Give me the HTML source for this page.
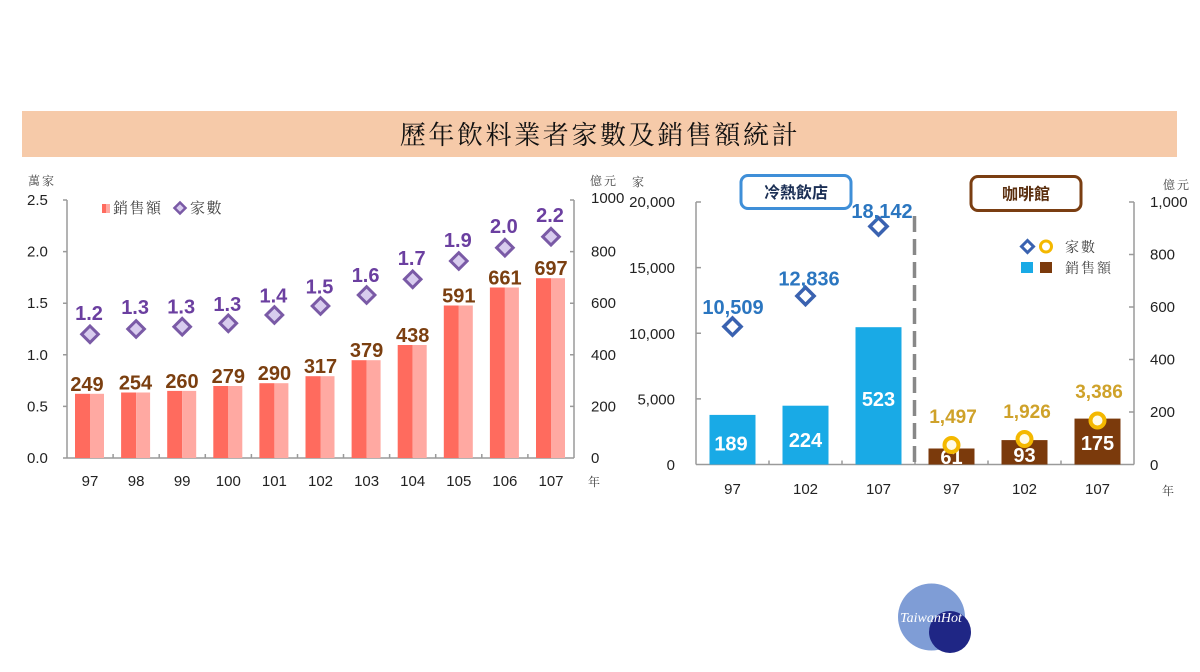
<!DOCTYPE html>
<html><head><meta charset="utf-8"><style>
html,body{margin:0;padding:0;background:#fff;}
svg{display:block;}
.ax{font-family:"Liberation Sans",Arial,sans-serif;font-size:15px;fill:#222;}
.cj{font-family:"Liberation Serif","Noto Serif CJK SC","Noto Sans CJK TC",serif;fill:#444;}
.bl{font-family:"Liberation Sans",Arial,sans-serif;font-weight:bold;}
</style></head><body>
<svg width="1200" height="672" viewBox="0 0 1200 672" xmlns="http://www.w3.org/2000/svg">
<rect width="1200" height="672" fill="#fff"/>
<!-- title band -->
<rect x="22" y="111" width="1155" height="46" fill="#f6caa9"/>
<text x="600" y="144" text-anchor="middle" font-family="'Noto Serif CJK SC','Noto Serif CJK TC',serif" font-size="26" letter-spacing="2.6" fill="#111">歷年飲料業者家數及銷售額統計</text>

<!-- ============ LEFT CHART ============ -->
<g stroke="#9a9a9a" stroke-width="1.5" fill="none">
<line x1="67" y1="200" x2="67" y2="458"/>
<line x1="574" y1="200" x2="574" y2="458"/>
<line x1="67" y1="458" x2="574" y2="458"/>
<path d="M63 200H67M63 251.6H67M63 303.2H67M63 354.8H67M63 406.4H67M63 458H67"/>
<path d="M570 200H574M570 251.6H574M570 303.2H574M570 354.8H574M570 406.4H574"/>
<path d="M113.1 454V458M159.2 454V458M205.3 454V458M251.4 454V458M297.5 454V458M343.5 454V458M389.6 454V458M435.7 454V458M481.8 454V458M527.9 454V458"/>
</g>
<text class="cj" x="28" y="185" font-size="12" letter-spacing="2">萬家</text>
<text class="cj" x="590" y="185" font-size="12" letter-spacing="2">億元</text>
<g class="ax">
<text x="27" y="205">2.5</text>
<text x="27" y="256.6">2.0</text>
<text x="27" y="308.2">1.5</text>
<text x="27" y="359.8">1.0</text>
<text x="27" y="411.4">0.5</text>
<text x="27" y="463">0.0</text>
<text x="591" y="203">1000</text>
<text x="591" y="256.6">800</text>
<text x="591" y="308.2">600</text>
<text x="591" y="359.8">400</text>
<text x="591" y="411.4">200</text>
<text x="591" y="463">0</text>
</g>
<g class="ax" text-anchor="middle">
<text x="90" y="486">97</text>
<text x="136.1" y="486">98</text>
<text x="182.2" y="486">99</text>
<text x="228.3" y="486">100</text>
<text x="274.4" y="486">101</text>
<text x="320.5" y="486">102</text>
<text x="366.6" y="486">103</text>
<text x="412.7" y="486">104</text>
<text x="458.8" y="486">105</text>
<text x="504.9" y="486">106</text>
<text x="551" y="486">107</text>
</g>
<text class="cj" x="588" y="486" font-size="12">年</text>

<!-- legend -->
<rect x="102" y="204" width="4" height="9" fill="#ff6b5e"/>
<rect x="106" y="204" width="4" height="9" fill="#ffa9a2"/>
<text class="cj" x="113" y="213" font-size="15" letter-spacing="1.5" fill="#333">銷售額</text>
<path d="M180 202.5L185.5 208L180 213.5L174.5 208Z" fill="#d8ccee" stroke="#7a5aa6" stroke-width="2.5"/>
<text class="cj" x="190" y="213" font-size="15" letter-spacing="1.5" fill="#333">家數</text>

<!-- bars -->
<g>
<rect x="75" y="393.8" width="15" height="64.2" fill="#ff6b5e"/><rect x="90" y="393.8" width="14" height="64.2" fill="#ffa9a2"/>
<rect x="121.1" y="392.5" width="15" height="65.5" fill="#ff6b5e"/><rect x="136.1" y="392.5" width="14" height="65.5" fill="#ffa9a2"/>
<rect x="167.2" y="390.9" width="15" height="67.1" fill="#ff6b5e"/><rect x="182.2" y="390.9" width="14" height="67.1" fill="#ffa9a2"/>
<rect x="213.3" y="386" width="15" height="72" fill="#ff6b5e"/><rect x="228.3" y="386" width="14" height="72" fill="#ffa9a2"/>
<rect x="259.4" y="383.2" width="15" height="74.8" fill="#ff6b5e"/><rect x="274.4" y="383.2" width="14" height="74.8" fill="#ffa9a2"/>
<rect x="305.5" y="376.2" width="15" height="81.8" fill="#ff6b5e"/><rect x="320.5" y="376.2" width="14" height="81.8" fill="#ffa9a2"/>
<rect x="351.6" y="360.2" width="15" height="97.8" fill="#ff6b5e"/><rect x="366.6" y="360.2" width="14" height="97.8" fill="#ffa9a2"/>
<rect x="397.7" y="345" width="15" height="113" fill="#ff6b5e"/><rect x="412.7" y="345" width="14" height="113" fill="#ffa9a2"/>
<rect x="443.8" y="305.5" width="15" height="152.5" fill="#ff6b5e"/><rect x="458.8" y="305.5" width="14" height="152.5" fill="#ffa9a2"/>
<rect x="489.9" y="287.5" width="15" height="170.5" fill="#ff6b5e"/><rect x="504.9" y="287.5" width="14" height="170.5" fill="#ffa9a2"/>
<rect x="536" y="278.2" width="15" height="179.8" fill="#ff6b5e"/><rect x="551" y="278.2" width="14" height="179.8" fill="#ffa9a2"/>
</g>
<g class="bl" font-size="20" fill="#7b3f10" text-anchor="middle">
<text x="87" y="391">249</text>
<text x="135.5" y="389.5">254</text>
<text x="182" y="388">260</text>
<text x="228.3" y="383">279</text>
<text x="274.4" y="380">290</text>
<text x="320.5" y="373">317</text>
<text x="366.6" y="357">379</text>
<text x="412.7" y="342">438</text>
<text x="458.8" y="302.5">591</text>
<text x="504.9" y="284.5">661</text>
<text x="551" y="275">697</text>
</g>
<!-- diamonds -->
<g fill="#d8ccee" stroke="#7a5aa6" stroke-width="3">
<path d="M90 326L98.3 334.3L90 342.6L81.7 334.3Z"/>
<path d="M136.1 320.7L144.4 329L136.1 337.3L127.8 329Z"/>
<path d="M182.2 318.4L190.5 326.7L182.2 335L173.9 326.7Z"/>
<path d="M228.3 315L236.6 323.3L228.3 331.6L220 323.3Z"/>
<path d="M274.4 306.7L282.7 315L274.4 323.3L266.1 315Z"/>
<path d="M320.5 297.7L328.8 306L320.5 314.3L312.2 306Z"/>
<path d="M366.6 286.7L374.9 295L366.6 303.3L358.3 295Z"/>
<path d="M412.7 271L421 279.3L412.7 287.6L404.4 279.3Z"/>
<path d="M458.8 252.7L467.1 261L458.8 269.3L450.5 261Z"/>
<path d="M504.9 239.4L513.2 247.7L504.9 256L496.6 247.7Z"/>
<path d="M551 228.4L559.3 236.7L551 245L542.7 236.7Z"/>
</g>
<g class="bl" font-size="20" fill="#6b3fa0" text-anchor="middle">
<text x="89" y="320">1.2</text>
<text x="135.1" y="314">1.3</text>
<text x="181.2" y="313.5">1.3</text>
<text x="227.3" y="311">1.3</text>
<text x="273.4" y="302.5">1.4</text>
<text x="319.5" y="293.5">1.5</text>
<text x="365.6" y="282">1.6</text>
<text x="411.7" y="265">1.7</text>
<text x="457.8" y="247">1.9</text>
<text x="503.9" y="233">2.0</text>
<text x="550" y="222">2.2</text>
</g>

<!-- ============ RIGHT CHART ============ -->
<g stroke="#9a9a9a" stroke-width="1.5" fill="none">
<line x1="696" y1="202" x2="696" y2="464.5"/>
<line x1="1134" y1="202" x2="1134" y2="464.5"/>
<line x1="696" y1="464.5" x2="1134" y2="464.5"/>
<path d="M696 202H701M696 267.6H701M696 333.2H701M696 398.9H701"/>
<path d="M1129 202H1134M1129 254.5H1134M1129 307H1134M1129 359.5H1134M1129 412H1134"/>
<path d="M769 460.5V464.5M842 460.5V464.5M915 460.5V464.5M988 460.5V464.5M1061 460.5V464.5"/>
</g>
<text class="cj" x="632" y="186" font-size="12">家</text>
<text class="cj" x="1163" y="189" font-size="12" letter-spacing="2">億元</text>
<g class="ax" text-anchor="end">
<text x="675" y="207">20,000</text>
<text x="675" y="273">15,000</text>
<text x="675" y="339">10,000</text>
<text x="675" y="404.5">5,000</text>
<text x="675" y="470">0</text>
</g>
<g class="ax">
<text x="1150" y="207">1,000</text>
<text x="1150" y="259.5">800</text>
<text x="1150" y="312">600</text>
<text x="1150" y="364.5">400</text>
<text x="1150" y="417">200</text>
<text x="1150" y="470">0</text>
</g>
<g class="ax" text-anchor="middle">
<text x="732.5" y="494">97</text>
<text x="805.5" y="494">102</text>
<text x="878.5" y="494">107</text>
<text x="951.5" y="494">97</text>
<text x="1024.5" y="494">102</text>
<text x="1097.5" y="494">107</text>
</g>
<text class="cj" x="1162" y="495" font-size="12">年</text>

<!-- boxes -->
<rect x="741" y="175.5" width="110" height="33" rx="7" fill="#fff" stroke="#3f8fd8" stroke-width="3"/>
<text x="796" y="198" text-anchor="middle" font-family="'Liberation Sans','Noto Sans CJK TC',sans-serif" font-weight="bold" font-size="16" fill="#1b2f55">冷熱飲店</text>
<rect x="971" y="176.5" width="110" height="34" rx="7" fill="#fff" stroke="#7a3e12" stroke-width="3"/>
<text x="1026" y="199.5" text-anchor="middle" font-family="'Liberation Sans','Noto Sans CJK TC',sans-serif" font-weight="bold" font-size="16" fill="#5a2e0e">咖啡館</text>

<!-- legend -->
<path d="M1027.5 240.5L1033.5 246.5L1027.5 252.5L1021.5 246.5Z" fill="#fff" stroke="#3a62b0" stroke-width="3"/>
<circle cx="1046" cy="246.5" r="5.5" fill="#fff" stroke="#f4b800" stroke-width="3"/>
<text class="cj" x="1065" y="252" font-size="14" letter-spacing="2" fill="#333">家數</text>
<rect x="1021" y="262" width="12" height="11" fill="#19aae6"/>
<rect x="1040" y="262" width="12" height="11" fill="#7b3a0c"/>
<text class="cj" x="1065" y="273" font-size="14" letter-spacing="2" fill="#333">銷售額</text>

<!-- dashed divider -->
<line x1="914.5" y1="216" x2="914.5" y2="464" stroke="#888" stroke-width="3.5" stroke-dasharray="16,7"/>

<!-- bars -->
<rect x="709.5" y="414.9" width="46" height="49.6" fill="#19aae6"/>
<rect x="782.5" y="405.7" width="46" height="58.8" fill="#19aae6"/>
<rect x="855.5" y="327.2" width="46" height="137.3" fill="#19aae6"/>
<rect x="928.5" y="448.5" width="46" height="16" fill="#7b3a0c"/>
<rect x="1001.5" y="440.1" width="46" height="24.4" fill="#7b3a0c"/>
<rect x="1074.5" y="418.6" width="46" height="45.9" fill="#7b3a0c"/>
<g class="bl" font-size="20" fill="#fff" text-anchor="middle">
<text x="731" y="450.5">189</text>
<text x="805.5" y="447">224</text>
<text x="878.5" y="406">523</text>
<text x="951.5" y="464">61</text>
<text x="1024.5" y="462">93</text>
<text x="1097.5" y="450">175</text>
</g>
<!-- diamonds -->
<g fill="#fff" stroke="#3a62b0" stroke-width="3.5">
<path d="M732.5 318L741.1 326.6L732.5 335.2L723.9 326.6Z"/>
<path d="M805.5 287.4L814.1 296L805.5 304.6L796.9 296Z"/>
<path d="M878.5 217.8L887.1 226.4L878.5 235L869.9 226.4Z"/>
</g>
<g class="bl" font-size="20" fill="#2b76c0" text-anchor="middle">
<text x="733" y="314">10,509</text>
<text x="809" y="285.5">12,836</text>
<text x="882" y="218">18,142</text>
</g>
<!-- circles -->
<g fill="#fffbe8" stroke="#f4b800" stroke-width="4">
<circle cx="951.5" cy="445" r="7"/>
<circle cx="1024.5" cy="439" r="7"/>
<circle cx="1097.5" cy="420.5" r="7"/>
</g>
<g class="bl" font-size="19" fill="#cfa22a" text-anchor="middle">
<text x="953" y="423">1,497</text>
<text x="1027" y="418">1,926</text>
<text x="1099" y="398">3,386</text>
</g>

<!-- watermark -->
<circle cx="931.5" cy="617" r="33.5" fill="#7f9dd6"/>
<circle cx="950" cy="632" r="21" fill="#1f2685"/>
<text x="931" y="622" text-anchor="middle" font-family="'Liberation Serif',serif" font-style="italic" font-size="14" fill="#fff">TaiwanHot</text>
</svg>
</body></html>
